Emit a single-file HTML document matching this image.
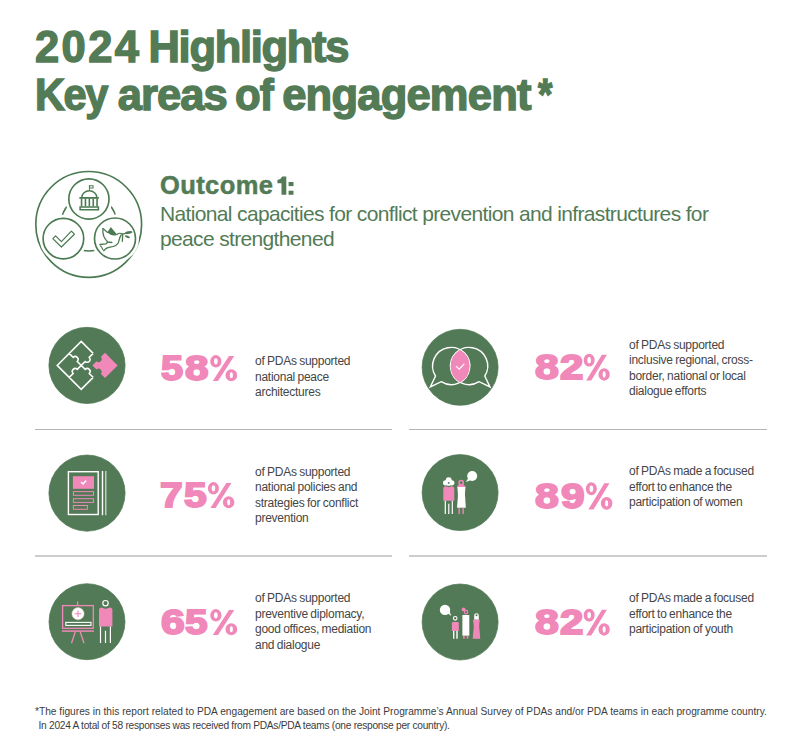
<!DOCTYPE html>
<html><head><meta charset="utf-8">
<style>
*{margin:0;padding:0;box-sizing:border-box}
html,body{width:799px;height:754px;background:#fff;overflow:hidden}
body{position:relative;font-family:"Liberation Sans",sans-serif}
.a{position:absolute;white-space:nowrap}
.t1{font-weight:700;font-size:43.5px;line-height:44px;color:#537b56;-webkit-text-stroke:1.4px #537b56}
.oc{font-weight:700;font-size:25.5px;line-height:26px;color:#537b56;letter-spacing:0.4px;word-spacing:-4.5px;-webkit-text-stroke:0.5px #537b56}
.od{font-size:21px;line-height:25.8px;color:#537b56;letter-spacing:-0.65px;word-spacing:0px;font-variant-ligatures:none}
.pc{font-weight:700;font-size:35.2px;line-height:36px;color:#f088b9;-webkit-text-stroke:1.9px #f088b9;transform-origin:0 0}
.ds{font-size:12px;line-height:15.55px;color:#454545;letter-spacing:-0.25px;word-spacing:-0.6px;font-variant-ligatures:none}
.hr{position:absolute;height:1px;background:#a9a9a9}
.fn{font-size:10.2px;line-height:13.6px;color:#3c3c3c}
svg{position:absolute;overflow:visible}
</style></head><body>

<div class="a t1" style="left:35px;top:25.1px;letter-spacing:2.4px">2024</div>
<div class="a t1" style="left:148.5px;top:25.1px;letter-spacing:-1.3px">Highlights</div>
<div class="a t1" style="left:35.3px;top:73px;letter-spacing:-1.6px;transform:scaleX(0.955);transform-origin:2px 0">Key</div>
<div class="a t1" style="left:117.7px;top:73px;letter-spacing:-0.9px">areas</div>
<div class="a t1" style="left:234.6px;top:73px;letter-spacing:-1px;transform:scaleX(0.965);transform-origin:1px 0">of</div>
<div class="a t1" style="left:282.2px;top:73px;letter-spacing:-0.77px">engagement</div>
<div class="a t1" style="left:538.2px;top:73px;transform:scaleX(0.85);transform-origin:0 0">*</div>

<!-- outcome icon -->
<svg style="left:0;top:0" width="799" height="300" viewBox="0 0 799 300">
 <g fill="none" stroke="#4b7a52" stroke-width="1.65">
  <circle cx="88.7" cy="224.4" r="52.9"/>
  <circle cx="88.9" cy="223.3" r="27.7"/>
 </g>
 <g fill="#fff" stroke="#fff" stroke-width="7">
  <circle cx="88.9" cy="199" r="20.1"/>
  <circle cx="63.4" cy="238.6" r="20.3"/>
  <circle cx="115" cy="238.5" r="20.5"/>
 </g>
 <g fill="none" stroke="#4b7a52" stroke-width="1.65">
  <circle cx="88.9" cy="199" r="20.1"/>
  <circle cx="63.4" cy="238.6" r="20.3"/>
  <circle cx="115" cy="238.5" r="20.5"/>
  <!-- check -->
  <path d="M52.8 238.6 L55.6 235.8 L61.4 241.6 L71.4 231.2 L74.4 234.2 L61.4 247 Z" stroke-width="1.2" stroke-linejoin="round"/>
 </g>
 <!-- capitol -->
 <g fill="#4b7a52" stroke="none" transform="translate(0.35,0)">
  <rect x="88.6" y="185.2" width="0.9" height="5"/>
  <path d="M88.6 185.2h4.6v3.4h-4.6z M89.6 186.2v1.4h2.6v-1.4z" fill-rule="evenodd"/>
  <path d="M80.8 197.3 A8.15 7.2 0 0 1 97.1 197.3 L95.7 197.3 A6.75 5.9 0 0 0 82.2 197.3 Z"/>
  <rect x="79" y="197" width="19.5" height="1.8"/>
  <rect x="80.4" y="198.6" width="1.6" height="7.8"/>
  <rect x="84.3" y="198.6" width="1.6" height="7.8"/>
  <rect x="88.2" y="198.6" width="1.6" height="7.8"/>
  <rect x="92.1" y="198.6" width="1.6" height="7.8"/>
  <rect x="95.9" y="198.6" width="1.6" height="7.8"/>
  <path d="M79 206.3h19.8v4.1H79z M80.5 207.8v1.1h16.8v-1.1z" fill-rule="evenodd"/>
 </g>
 <!-- dove -->
 <g fill="none" stroke="#4b7a52" stroke-width="1.3" stroke-linejoin="round" stroke-linecap="round">
  <path d="M103,228.6 L107.6,232.4"/>
  <path d="M116.9,234.5 C118,233.3 120.5,232.7 122.6,234.1"/>
  <path d="M121.2,235 C119.6,237 119.2,240.5 118.2,243 C116.6,246 113.2,246.7 110.2,247.1 C107.2,247.5 105.2,248.5 103.9,250.8"/>
  <path d="M103,228.6 C102.4,232.5 103.2,237.5 107.7,242 L111.9,242.5"/>
  <path d="M99.9,244.5 L105.8,243.8 C106.8,243.4 107.4,242.8 107.7,242"/>
  <path d="M100.6,246 L101.2,246.6 M101.8,247.8 L102.4,248.4 M102.8,249.6 L103.3,250.1"/>
  <path d="M122.4,234.1 L131.8,232.2"/>
  <path d="M122.7,235.2 L122.3,241.4"/>
 </g>
 <g fill="#4b7a52">
  <path d="M107.4,232.3 L110.8,227.1 L117,234.4 C115,236.4 110.8,236 107.4,232.3 Z"/>
  <ellipse cx="128.6" cy="232.5" rx="3.5" ry="1.25" transform="rotate(-10 128.6 232.5)"/>
  <ellipse cx="127.4" cy="236.8" rx="2.6" ry="1.1" transform="rotate(22 127.4 236.8)"/>
 </g>
</svg>

<div class="a oc" style="left:160px;top:172px">Outcome</div>
<svg style="left:0;top:0" width="300" height="200" viewBox="0 0 300 200"><g fill="#537b56"><path d="M277.4,180.1 Q281,179.4 282.2,176.5 L286.3,176.5 L286.3,194.8 L281.5,194.8 L281.5,183.2 L277.4,183.2 Z"/><rect x="288.6" y="182" width="4.9" height="4.1"/><rect x="288.6" y="190.7" width="4.9" height="4.1"/></g></svg>
<div class="a od" style="left:160px;top:200.5px">National capacities for conflict prevention and infrastructures for<br>peace strengthened</div>

<svg class="ic" style="left:0;top:0" width="799" height="754" viewBox="0 0 799 754">
 <g fill="#537a56" stroke="#4b7550" stroke-width="0.7">
  <circle cx="87" cy="365.4" r="38.1"/>
  <circle cx="460.1" cy="367.3" r="38"/>
  <circle cx="87" cy="493.1" r="38.1"/>
  <circle cx="460.1" cy="492.6" r="38"/>
  <circle cx="87" cy="621.7" r="38"/>
  <circle cx="460.1" cy="622" r="38"/>
 </g>
 <!-- puzzle -->
 <path fill="none" stroke="#fff" stroke-width="1.5" stroke-linejoin="miter" d="M93.2,353.4 L81.2,341.4 L57.2,365.4 L81.2,389.4 L93.2,377.4 M93.2,353.4 L89.24,357.36 A2.88,2.88 0 0 1 85.16,361.44 L81.20,365.40 M93.2,377.4 L89.24,373.44 A2.88,2.88 0 0 0 85.16,369.36 L81.20,365.40 M69.2,353.4 L73.16,357.36 A2.88,2.88 0 0 1 77.24,361.44 L81.20,365.40 M69.2,377.4 L73.16,373.44 A2.88,2.88 0 0 1 77.24,369.36 L81.20,365.40"/>
 <path fill="#f088b9" d="M92.40,365.40 L96.56,361.24 A3.03,3.03 0 0 0 100.84,356.96 L105.00,352.80 L117.60,365.40 L105.00,378.00 L100.84,373.84 A3.03,3.03 0 0 0 96.56,369.56 L92.40,365.40 Z"/>
 <!-- speech bubbles -->
 <g transform="translate(0,0.5)">
 <g fill="none" stroke="#fff" stroke-width="1.4" stroke-linejoin="miter">
  <path d="M441.2,381.2 A18.6,18.6 0 1 0 435.5,375.5 L430.3,386.4 Z"/>
  <path d="M479.1,381.2 A18.6,18.6 0 1 1 484.8,375.5 L490,386.4 Z"/>
 </g>
 <path fill="#f088b9" d="M460.15,349.6 A18.6,18.6 0 0 1 460.15,382 A18.6,18.6 0 0 1 460.15,349.6 Z"/>
 <path fill="none" stroke="#fff" stroke-width="1.3" d="M456,365.6 L459.2,368.6 L464.3,363.4"/>
 </g>
 <!-- document -->
 <g fill="none" stroke="#fff" stroke-width="1.4">
  <rect x="68.4" y="471.7" width="29.8" height="42.8"/>
  <path d="M102.5,471 V515.2"/>
  <path d="M105.8,471 V515.2" stroke="#d9e2d9" stroke-width="1.2"/>
 </g>
 <rect x="72.9" y="476.2" width="21.1" height="12.6" fill="#f088b9"/>
 <path d="M81,482 L83.1,484 L86.1,480.6" fill="none" stroke="#fff" stroke-width="1.5"/>
 <g fill="none" stroke="#f088b9" stroke-width="1">
  <rect x="73.4" y="491.6" width="20.1" height="3.7"/>
  <rect x="73.4" y="498.7" width="20.1" height="3.7"/>
  <rect x="73.4" y="505.5" width="14" height="3.8"/>
 </g>
 <!-- women -->
 <g fill="#fff">
  <circle cx="445.6" cy="482.8" r="2.6"/>
  <circle cx="448.7" cy="480.2" r="3"/>
  <circle cx="451.8" cy="482.8" r="2.6"/>
  <circle cx="448.7" cy="483.2" r="2.6"/>
  <circle cx="472.2" cy="476" r="5"/>
  <path d="M468,478.5 L465.8,482 L470.5,480.3 Z"/>
  <path d="M457.3,486.8 H465.5 C465.2,491 464.6,494 465.2,498 L465.8,507.8 H457 L457.8,498 C458.2,494 457.6,491 457.3,486.8 Z"/>
 </g>
 <circle cx="448.7" cy="482.9" r="0.9" fill="#537a56"/>
 <path fill="#f088b9" d="M443.3,489 Q443.3,486.2 446,486.2 L448.7,487.3 L451.5,486.2 Q454.3,486.2 454.3,489 V500.8 H443.3 Z"/>
 <g stroke="#fff" stroke-width="1.2">
  <path d="M445.3,500.8 V514.1 M452.3,500.8 V514.1 M448.8,503.8 V514.1"/>
 </g>
 <circle cx="461.2" cy="482.6" r="2.1" fill="none" stroke="#f088b9" stroke-width="1.5"/>
 <path fill="#f088b9" d="M456.6,486.9 L459,484.2 L463.4,484.2 L465.9,486.9 Z"/>
 <g stroke="#f088b9" stroke-width="1.4">
  <path d="M459.2,507.8 V514.1 M463.1,507.8 V514.1"/>
 </g>
 <!-- easel -->
 <g fill="none" stroke="#f088b9" stroke-width="1.3">
  <rect x="62.6" y="605.6" width="30.7" height="22.7"/>
  <path d="M77.6,601.4 V605"/>
  <path d="M62,631.1 H93.9" stroke-width="1.5"/>
  <path d="M75.3,631.8 L71.5,643.2 M80.2,631.8 L84,643.2"/>
 </g>
 <circle cx="78" cy="613.7" r="6.1" fill="#fff" stroke="#e8c9b5" stroke-width="0.5"/>
 <path d="M78,610.4 V617 M74.7,613.7 H81.3" stroke="#f088b9" stroke-width="1.1"/>
 <rect x="65.8" y="622.4" width="25.2" height="3" fill="none" stroke="#fff" stroke-width="1.1"/>
 <circle cx="105.5" cy="603.2" r="2.7" fill="none" stroke="#fff" stroke-width="1.2"/>
 <path fill="#f088b9" d="M99,610 Q99,607.5 101.5,607.5 L105.5,609 L109.9,607.5 Q112.4,607.5 112.4,610 V626.4 H99 Z"/>
 <g stroke="#fff" stroke-width="1.2">
  <path d="M100.5,626.4 V643.1 M110.4,626.4 V643.1 M105.5,630.7 V643.1"/>
 </g>
 <!-- youth -->
 <g fill="#fff">
  <circle cx="445" cy="609.9" r="5.2"/>
  <path d="M447.5,613 L451.3,615.9 L449.6,611.5 Z"/>
  <rect x="462.4" y="615" width="6.9" height="20.7"/>
 </g>
 <circle cx="455.2" cy="618.3" r="1.8" fill="none" stroke="#fff" stroke-width="1.1"/>
 <path fill="#f088b9" d="M451.9,623.2 Q451.9,621.9 453.2,621.9 H457.5 Q458.8,621.9 458.8,623.2 V630.9 H451.9 Z"/>
 <g stroke="#fff" stroke-width="1.4">
  <path d="M453.7,630.9 V638.7 M457,630.9 V638.7"/>
 </g>
 <circle cx="463.6" cy="609.4" r="1.9" fill="#f088b9"/>
 <circle cx="466" cy="612.1" r="1.7" fill="none" stroke="#f088b9" stroke-width="1.2"/>
 <g stroke="#f088b9" stroke-width="1.6">
  <path d="M463.9,635.7 V638.7 M467.5,635.7 V638.7"/>
 </g>
 <path fill="#fff" d="M474.2,619.8 V615.5 A2.3,2.3 0 0 1 478.8,615.5 V619.8 Z"/>
 <circle cx="476.5" cy="615.3" r="1" fill="#537a56"/>
 <path fill="#f088b9" d="M472.9,619.8 H479.8 C479.4,623 479,625.5 479.3,628 C479.6,631 480.1,635 480.2,638.7 H472.8 C472.9,635 473.4,631 473.7,628 C474,625.5 473.3,623 472.9,619.8 Z"/>
</svg>

<!-- separators -->
<div class="hr" style="left:35px;top:429px;width:357px;background:#b5b5b5"></div>
<div class="hr" style="left:409px;top:429px;width:358px;background:#b5b5b5"></div>
<div class="hr" style="left:35px;top:555px;width:357px;height:2px;background:#cdcdcd"></div>
<div class="hr" style="left:409px;top:555px;width:358px;height:2px;background:#cdcdcd"></div>

<!-- percentages -->
<div class="a pc" style="left:161.20px;top:350.43px;transform:scaleX(1.128)">5</div>
<div class="a pc" style="left:184.50px;top:350.43px;transform:scaleX(1.200)">8</div>
<div class="a pc" style="left:534.50px;top:349.48px;transform:scaleX(1.216)">8</div>
<div class="a pc" style="left:560.00px;top:349.48px;transform:scaleX(1.195)">2</div>
<div class="a pc" style="left:160.02px;top:477.43px;transform:scaleX(1.157)">7</div>
<div class="a pc" style="left:183.70px;top:477.43px;transform:scaleX(1.159)">5</div>
<div class="a pc" style="left:534.50px;top:478.23px;transform:scaleX(1.216)">8</div>
<div class="a pc" style="left:560.50px;top:478.23px;transform:scaleX(1.205)">9</div>
<div class="a pc" style="left:160.90px;top:604.42px;transform:scaleX(1.216)">6</div>
<div class="a pc" style="left:185.40px;top:604.42px;transform:scaleX(1.154)">5</div>
<div class="a pc" style="left:534.50px;top:604.47px;transform:scaleX(1.216)">8</div>
<div class="a pc" style="left:560.00px;top:604.47px;transform:scaleX(1.195)">2</div>

<svg style="left:0;top:0" width="799" height="754" viewBox="0 0 799 754">
<defs><path id="pct" fill-rule="evenodd" d="M0,6.3 A5.5,6.35 0 1 0 11,6.3 A5.5,6.35 0 1 0 0,6.3 Z M3.7,6.3 A1.8,3.2 0 1 0 7.3,6.3 A1.8,3.2 0 1 0 3.7,6.3 Z M14.9,20.5 A5.7,6.15 0 1 0 26.3,20.5 A5.7,6.15 0 1 0 14.9,20.5 Z M19.1,20.5 A1.5,3.1 0 1 0 22.1,20.5 A1.5,3.1 0 1 0 19.1,20.5 Z M18.3,0.9 L23.4,0.9 L7.6,26.4 L2.5,26.4 Z"/></defs>
<g fill="#f088b9">
<use href="#pct" transform="translate(210.20,355.10) scale(1.0266,0.9814)"/>
<use href="#pct" transform="translate(583.70,353.80) scale(0.9924,1.0074)"/>
<use href="#pct" transform="translate(207.90,482.10) scale(1.0076,0.9814)"/>
<use href="#pct" transform="translate(585.80,482.30) scale(1.0114,1.0260)"/>
<use href="#pct" transform="translate(210.20,609.10) scale(1.0266,0.9814)"/>
<use href="#pct" transform="translate(583.70,608.80) scale(0.9924,1.0074)"/>
</g></svg>

<!-- descriptions -->
<div class="a ds" style="left:255px;top:354px">of PDAs supported<br>national peace<br>architectures</div>
<div class="a ds" style="left:629px;top:337.8px">of PDAs supported<br>inclusive regional, cross-<br>border, national or local<br>dialogue efforts</div>
<div class="a ds" style="left:255px;top:464.6px">of PDAs supported<br>national policies and<br>strategies for conflict<br>prevention</div>
<div class="a ds" style="left:629px;top:464.4px">of PDAs made a focused<br>effort to enhance the<br>participation of women</div>
<div class="a ds" style="left:255px;top:591px">of PDAs supported<br>preventive diplomacy,<br>good offices, mediation<br>and dialogue</div>
<div class="a ds" style="left:629px;top:591.4px">of PDAs made a focused<br>effort to enhance the<br>participation of youth</div>

<!-- footnote -->
<div class="a fn" style="left:35px;top:704.6px">*The figures in this report related to PDA engagement are based on the Joint Programme’s Annual Survey of PDAs and/or PDA teams in each programme country.</div>
<div class="a fn" style="left:38.5px;top:719.1px;letter-spacing:-0.27px">In 2024 A total of 58 responses was received from PDAs/PDA teams (one response per country).</div>

</body></html>
